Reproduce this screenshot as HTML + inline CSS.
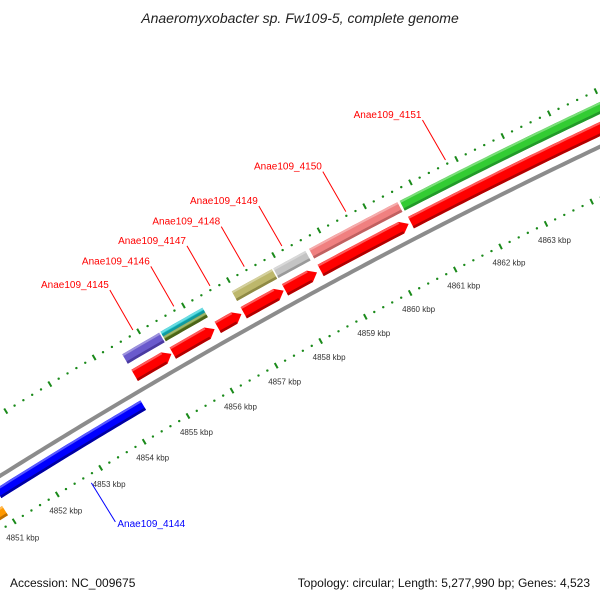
<!DOCTYPE html>
<html><head><meta charset="utf-8"><style>
body{margin:0;background:#fff;}
svg{display:block;font-family:"Liberation Sans",sans-serif;}
</style></head><body>
<svg id="chart" width="600" height="600" viewBox="0 0 600 600">
<text x="300" y="23" text-anchor="middle" font-size="14" font-style="italic" fill="#222">Anaeromyxobacter sp. Fw109-5, complete genome</text>
<g id="plot"></g>
<text x="10" y="587" font-size="12" fill="#111">Accession: NC_009675</text>
<text x="590" y="587" text-anchor="end" font-size="12" fill="#111">Topology: circular; Length: 5,277,990 bp; Genes: 4,523</text>
</svg>
<script>
// Data (positions in kbp)
const tickKbp = [4851,4852,4853,4854,4855,4856,4857,4858,4859,4860,4861,4862,4863];
const fwdNames = ["Anae109_4145","Anae109_4146","Anae109_4147","Anae109_4148","Anae109_4149","Anae109_4150","Anae109_4151"];
const fwdStart = [4854.50,4855.36,4856.37,4856.95,4857.87,4858.66,4860.65];
const fwdEnd   = [4855.33,4856.30,4856.90,4857.84,4858.58,4860.60,4866.0];
const cogColor = ["#6a5acd","split","none","#bdb76b","#c4c4c4","#f08080","#33cc33"];
const revNames = ["Anae109_4144"];
const revStart = [4851.03];
const revEnd   = [4854.35];
const revCogStart = [4849.0];
const revCogEnd   = [4850.96];

const NS="http://www.w3.org/2000/svg";
const plot=document.getElementById('plot');
const CX=3106, CY=5425, R0=5843;
const RT=5797;
const phi0=Math.atan2(416-CY,188-CX);
const K=50.8/RT;
function pt(kbp,dr){const p=phi0+(kbp-4855)*K;const r=R0+dr;return [CX+r*Math.cos(p),CY+r*Math.sin(p)];}
function arcPts(a,b,dr){const out=[];const n=Math.max(2,Math.ceil((b-a)/0.1));for(let i=0;i<=n;i++){out.push(pt(a+(b-a)*i/n,dr));}return out;}
function mk(tag,attrs){const e=document.createElementNS(NS,tag);for(const k in attrs)e.setAttribute(k,attrs[k]);plot.appendChild(e);return e;}
function poly(pts){return pts.map(p=>p[0].toFixed(2)+','+p[1].toFixed(2)).join(' ');}
function bar(a,b,dr,h,fill,dark,arrow){
  const ah=0.16; let pts;
  if(arrow===1){const e=b-ah;pts=arcPts(a,e,dr+h/2).concat([pt(b,dr)]).concat(arcPts(a,e,dr-h/2).reverse());}
  else if(arrow===-1){const s=a+ah;pts=[pt(a,dr)].concat(arcPts(s,b,dr+h/2)).concat(arcPts(s,b,dr-h/2).reverse());}
  else pts=arcPts(a,b,dr+h/2).concat(arcPts(a,b,dr-h/2).reverse());
  const e=mk('polygon',{points:poly(pts),fill:fill});
  const hi=mk('polyline',{points:poly(arcPts(arrow===-1?a+ah:a,arrow===1?b-ah:b,dr+h/2-1.2)),fill:'none',stroke:'rgba(255,255,255,0.35)','stroke-width':2});
  const d=mk('polyline',{points:poly(arcPts(arrow===-1?a+ah:a,arrow===1?b-ah:b,dr-h/2+1.3)),fill:'none',stroke:dark,'stroke-width':2.6});
  return [e,hi,d];
}
// backbone
const bb=mk('polyline',{points:poly(arcPts(4849,4866,0)),fill:'none',stroke:'#8c8c8c','stroke-width':4});


// ticks: inner and outer rows
for(let kb=4849;kb<=4866.001;kb+=0.2){
  const k=Math.round(kb*5)/5;const major=Math.abs(k-Math.round(k))<1e-6;
  [-46,52].forEach(dr=>{
    let e;
    if(major){const a=pt(k,dr-3),b=pt(k,dr+3);e=mk('line',{x1:a[0],y1:a[1],x2:b[0],y2:b[1],stroke:'#1a8a1a','stroke-width':2});}
    else{const a=pt(k,dr);e=mk('circle',{cx:a[0],cy:a[1],r:1.2,fill:'#1a8a1a'});}
    
    
  });
}
tickKbp.forEach(k=>{
  const p=pt(k,-46);
  const t=mk('text',{x:p[0]-8,y:p[1]+19,'font-size':8,fill:'#333'});
  t.textContent=k+' kbp';
  
  
});
// forward genes
fwdNames.forEach((n,i)=>{
  const a=fwdStart[i],b=fwdEnd[i];
  const parts=bar(a,b,16,13,'#ff0000','#b00000',b<4865?1:0);
  parts.forEach(e=>{});
  parts.forEach(e=>{});
  let cog=[];
  if(cogColor[i]==='split'){cog=cog.concat(bar(a,b,38,5.5,'#1ec8d2','#109aa0',0),bar(a,b,32.5,5.5,'#6b8e23','#4a6318',0));}
  else if(cogColor[i]!=='none'){const dk={"#6a5acd":"#4a3aa0","#bdb76b":"#8f8a45","#c4c4c4":"#999","#f08080":"#c06060","#33cc33":"#22992a"}[cogColor[i]];cog=bar(a,b,35,11,cogColor[i],dk,0);}
  cog.forEach(e=>{});
  cog.forEach(e=>{});
  const m=pt((a+Math.min(b,4866))/2,56);
  if(b<4865||i===6){
    const q=(i===6)?pt(4861.8,56):m;
    const ln=mk('line',{x1:q[0],y1:q[1],x2:q[0]-23,y2:q[1]-40,stroke:'#ff0000','stroke-width':1});
    
    
    const t=mk('text',{x:q[0]-24,y:q[1]-42,'font-size':10,fill:'#ff0000','text-anchor':'end'});
    t.textContent=n;
    
    
  }
});
// reverse genes
revNames.forEach((n,i)=>{
  const parts=bar(revStart[i],revEnd[i],-14,11,'#0000ff','#0000a0',0);
  parts.forEach(e=>{});
  parts.forEach(e=>{});
  const q=pt((revStart[i]+revEnd[i])/2,-54);
  const ln=mk('line',{x1:q[0],y1:q[1],x2:q[0]+24,y2:q[1]+39,stroke:'#0000ff','stroke-width':1});
  
  
  const t=mk('text',{x:q[0]+26,y:q[1]+44,'font-size':10,fill:'#0000ff'});
  t.textContent=n;
  
  
});
revCogStart.forEach((s,i)=>{
  const parts=bar(s,revCogEnd[i],-32,11,'#ff9900','#c07000',0);
  parts.forEach(e=>{});
  parts.forEach(e=>{});
});
</script>
</body></html>
